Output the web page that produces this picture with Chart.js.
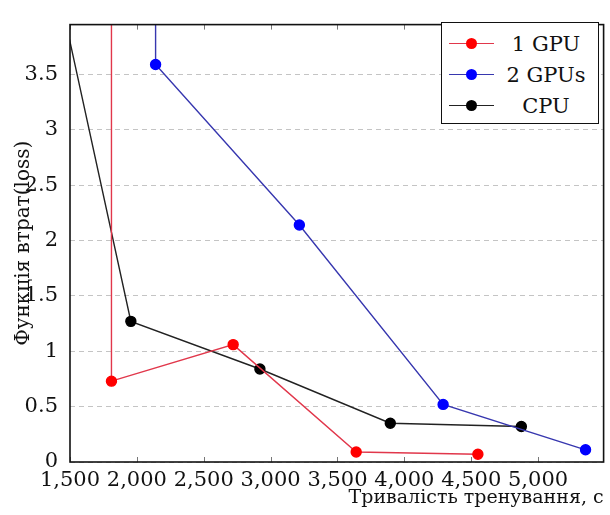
<!DOCTYPE html>
<html>
<head>
<meta charset="utf-8">
<script src="https://cdn.jsdelivr.net/npm/chart.js@4/dist/chart.umd.min.js"></script>
<style>
  html, body { margin: 0; padding: 0; background: #fff; }
  #wrap { position: relative; width: 610px; height: 515px; }
  #legend {
    position: absolute; left: 441px; top: 22px; width: 156px; height: 100px;
    border: 1.5px solid #111; background: #fff;
    font-family: "DejaVu Serif", serif; font-size: 21px; color: #111;
  }
  .row { position: absolute; left: 0; width: 100%; height: 30px; }
  .row .ln { position: absolute; left: 7px; top: 14px; width: 45px; height: 0; border-top: 1.5px solid; }
  .row .dot { position: absolute; left: 24px; top: 9px; width: 11px; height: 11px; border-radius: 50%; }
  .row .lbl { position: absolute; left: 56px; right: 4px; top: 0; text-align: center; line-height: 30px; }
</style>
</head>
<body>
<div id="wrap">
  <canvas id="lossChart" width="610" height="515"></canvas>
  <div id="legend"></div>
</div>
<script>
// tick values
const xTicks = [1500, 2000, 2500, 3000, 3500, 4000, 4500, 5000];
const yTicks = [0, 0.5, 1, 1.5, 2, 2.5, 3, 3.5];

// training time (s) vs loss; first points of each series lie outside the plot
const gpu1Time = [1810, 1810, 2720, 3640, 4550];
const gpu1Loss = [5.0, 0.73, 1.06, 0.09, 0.07];
const gpu2Time = [2140, 2140, 3215, 4290, 5355];
const gpu2Loss = [5.0, 3.59, 2.14, 0.52, 0.11];
const cpuTime = [1400, 1955, 2920, 3895, 4875];
const cpuLoss = [4.35, 1.27, 0.84, 0.35, 0.32];

const seriesNames = ["1 GPU", "2 GPUs", "CPU"];
const lineColors = ["rgb(225,55,75)", "rgb(55,55,175)", "#222"];
const markColors = ["#f00", "#00f", "#000"];

function toPoints(xs, ys) {
  return xs.map((x, i) => ({ x: x, y: ys[i] }));
}

const FONT = "DejaVu Serif";

// frame + inward tick marks like pgfplots
const framePlugin = {
  id: "frame",
  afterDatasetsDraw(chart) {
    const { ctx, chartArea: a, scales } = chart;
    ctx.save();
    ctx.strokeStyle = "#777";
    ctx.lineWidth = 1;
    for (const v of xTicks) {
      const px = Math.round(scales.x.getPixelForValue(v)) + 0.5;
      ctx.beginPath();
      ctx.moveTo(px, a.bottom); ctx.lineTo(px, a.bottom - 5);
      ctx.moveTo(px, a.top); ctx.lineTo(px, a.top + 5);
      ctx.stroke();
    }
    ctx.strokeStyle = "#111";
    ctx.lineWidth = 1.6;
    ctx.strokeRect(a.left, a.top, a.right - a.left, a.bottom - a.top);
    ctx.restore();
  }
};

const datasets = [
  toPoints(gpu1Time, gpu1Loss),
  toPoints(gpu2Time, gpu2Loss),
  toPoints(cpuTime, cpuLoss)
].map((pts, i) => ({
  label: seriesNames[i],
  data: pts,
  borderColor: lineColors[i],
  backgroundColor: markColors[i],
  pointBackgroundColor: markColors[i],
  pointBorderColor: markColors[i],
  pointRadius: 5,
  borderWidth: 1.4,
  tension: 0,
  fill: false
}));

const ctx = document.getElementById("lossChart").getContext("2d");
const chart = new Chart(ctx, {
  type: "line",
  data: { datasets: datasets },
  options: {
    responsive: false,
    animation: false,
    layout: { padding: { top: 12, right: 2, left: 0, bottom: 0 } },
    plugins: {
      legend: { display: false },
      tooltip: { enabled: false }
    },
    scales: {
      x: {
        type: "linear",
        min: 1500,
        max: 5490,
        afterBuildTicks: (scale) => { scale.ticks = xTicks.map(v => ({ value: v })); },
        afterFit: (scale) => { scale.height = 53; },
        grid: { display: false, drawTicks: false },
        border: { display: false },
        ticks: {
          autoSkip: false,
          maxRotation: 0,
          padding: 6,
          color: "#111",
          font: { family: FONT, size: 21 },
          callback: (v) => v.toLocaleString("en-US")
        },
        title: {
          display: true,
          text: "Тривалість тренування, с",
          align: "end",
          color: "#111",
          font: { family: FONT, size: 19 },
          padding: { top: 0, bottom: 6 }
        }
      },
      y: {
        min: 0,
        max: 3.95,
        afterBuildTicks: (scale) => { scale.ticks = yTicks.map(v => ({ value: v })); },
        afterFit: (scale) => { scale.width = 70; },
        grid: {
          color: "#c4c4c4",
          lineWidth: 1,
          drawTicks: false
        },
        border: { display: false, dash: [5, 4] },
        ticks: {
          padding: 12,
          color: "#111",
          font: { family: FONT, size: 21 },
          callback: (v) => String(v)
        },
        title: {
          display: true,
          text: "Функція втрат(loss)",
          color: "#111",
          font: { family: FONT, size: 20 },
          padding: { top: 12, bottom: 0 }
        }
      }
    }
  },
  plugins: [framePlugin]
});

// HTML legend box inside the plot, like pgfplots
const legend = document.getElementById("legend");
seriesNames.forEach((name, i) => {
  const row = document.createElement("div");
  row.className = "row";
  row.style.top = (6 + i * 31) + "px";
  row.innerHTML =
    '<div class="ln" style="border-color:' + lineColors[i] + '"></div>' +
    '<div class="dot" style="background:' + markColors[i] + '"></div>' +
    '<div class="lbl">' + name + '</div>';
  legend.appendChild(row);
});
</script>
</body>
</html>
